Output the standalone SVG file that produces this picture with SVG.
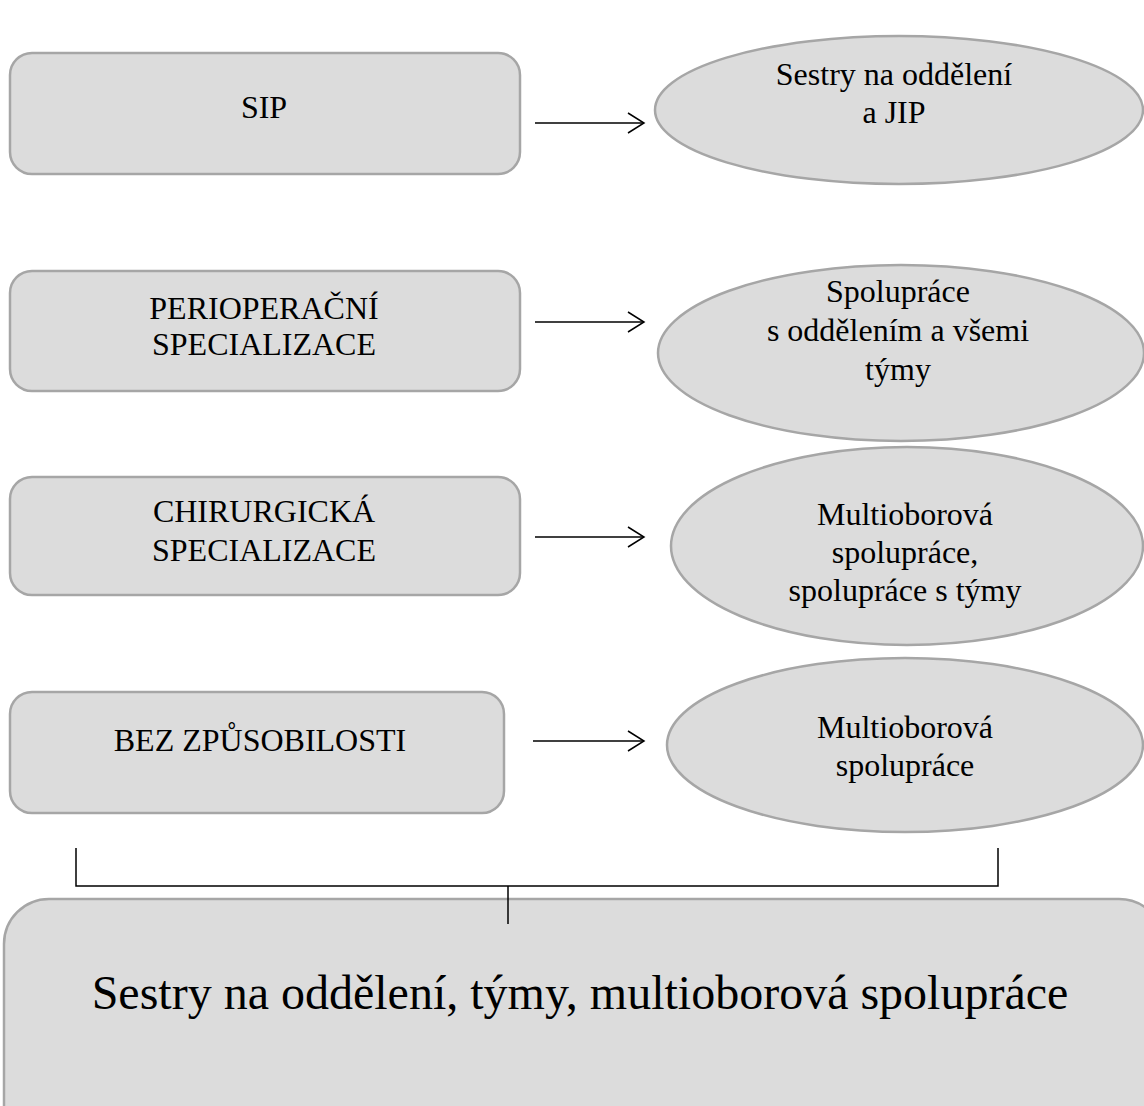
<svg xmlns="http://www.w3.org/2000/svg" width="1144" height="1106" viewBox="0 0 1144 1106">
<defs>
<style>
.box{fill:#dcdcdc;stroke:#a6a6a6;stroke-width:2.5}
text{font-family:'Times New Roman','Liberation Serif',Tinos,'DejaVu Serif',serif;font-size:32px;fill:#000;text-anchor:middle}
.big{font-size:48px}
.c{stroke:#000;stroke-width:1.5;fill:none}
</style>
<marker id="ah" markerWidth="20" markerHeight="24" refX="17" refY="11" orient="auto" markerUnits="userSpaceOnUse">
<path d="M1,1 L17,11 L1,21" fill="none" stroke="#000" stroke-width="1.5"/>
</marker>
</defs>
<rect width="1144" height="1106" fill="#fff"/>
<g id="n-sip"><rect class="box" x="10" y="53" width="510" height="121" rx="22"/><text x="264" y="118">SIP</text></g>
<g id="n-sestry"><ellipse class="box" cx="899" cy="110" rx="244" ry="74"/><text x="894" y="85">Sestry na oddělení</text><text x="894" y="123">a JIP</text></g>
<g id="n-periop"><rect class="box" x="10" y="271" width="510" height="120" rx="22"/><text x="264" y="319">PERIOPERAČNÍ</text><text x="264" y="355">SPECIALIZACE</text></g>
<g id="n-spoluprace"><ellipse class="box" cx="901" cy="353" rx="243" ry="88"/><text x="898" y="302">Spolupráce</text><text x="898" y="341">s oddělením a všemi</text><text x="898" y="380">týmy</text></g>
<g id="n-chir"><rect class="box" x="10" y="477" width="510" height="118" rx="22"/><text x="264" y="522">CHIRURGICKÁ</text><text x="264" y="561">SPECIALIZACE</text></g>
<g id="n-multi1"><ellipse class="box" cx="907" cy="546" rx="236" ry="99"/><text x="905" y="525">Multioborová</text><text x="905" y="563">spolupráce,</text><text x="905" y="601">spolupráce s týmy</text></g>
<g id="n-bez"><rect class="box" x="10" y="692" width="494" height="121" rx="22"/><text x="260" y="751">BEZ ZPŮSOBILOSTI</text></g>
<g id="n-multi2"><ellipse class="box" cx="905" cy="745" rx="238" ry="87"/><text x="905" y="738">Multioborová</text><text x="905" y="776">spolupráce</text></g>
<g id="n-bottom"><rect class="box" x="4" y="899" width="1160" height="260" rx="45"/><text class="big" x="580" y="1009">Sestry na oddělení, týmy, multioborová spolupráce</text></g>
<g id="connectors">
<line class="c" x1="535" y1="123" x2="644" y2="123" marker-end="url(#ah)"/>
<line class="c" x1="535" y1="322" x2="644" y2="322" marker-end="url(#ah)"/>
<line class="c" x1="535" y1="537" x2="644" y2="537" marker-end="url(#ah)"/>
<line class="c" x1="533" y1="741" x2="644" y2="741" marker-end="url(#ah)"/>
<polyline class="c" points="76,848 76,886 998,886 998,848"/>
<line class="c" x1="508" y1="886" x2="508" y2="924"/>
</g>
</svg>
